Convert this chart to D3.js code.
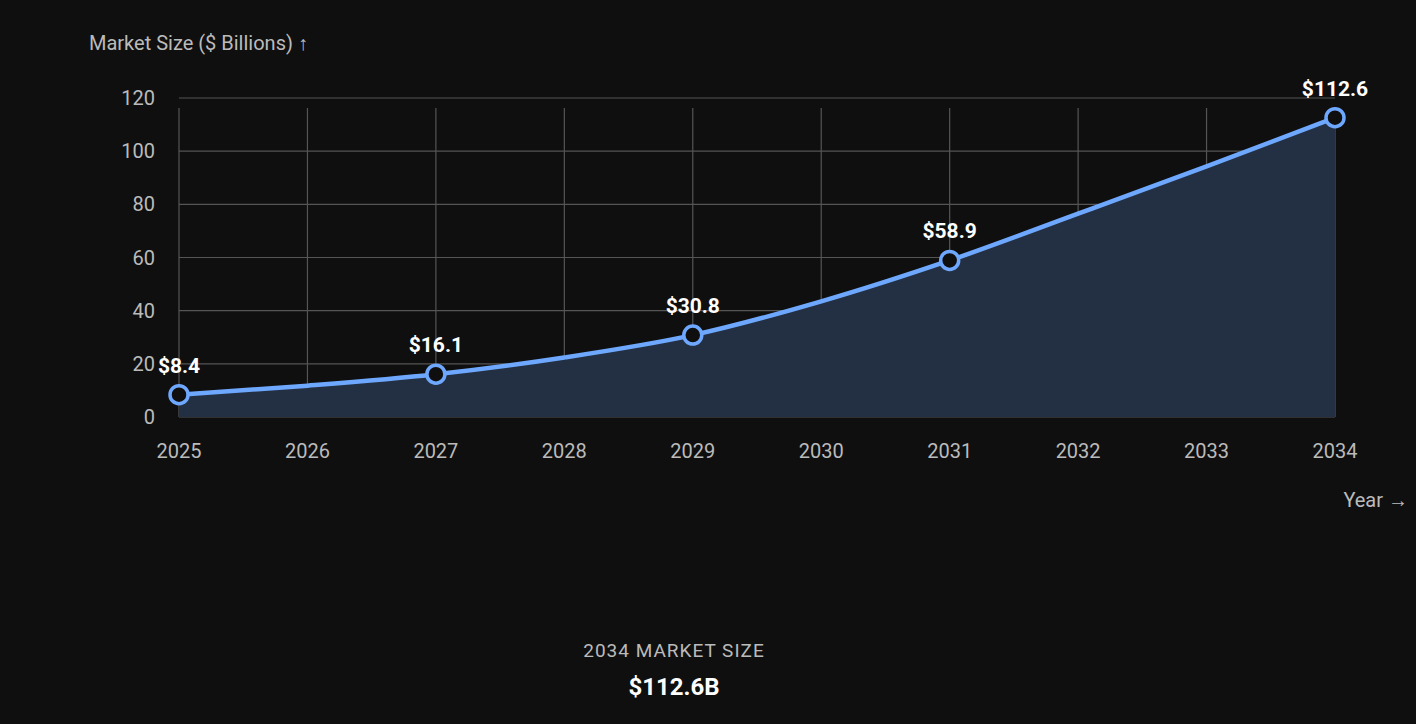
<!DOCTYPE html>
<html><head><meta charset="utf-8">
<script src="https://cdn.jsdelivr.net/npm/d3@7/dist/d3.min.js"></script>
<style>body{margin:0;background:#0f0f0f;font-family:Roboto,sans-serif}</style>
</head><body><svg id="c" width="1416" height="724"></svg>
<script>
const years = [2025,2026,2027,2028,2029,2030,2031,2032,2033,2034];
const values = [8.4,11.8,16.1,22.4,30.8,43.5,58.9,76.5,94.3,112.6];
const labeledYears = [2025,2027,2029,2031,2034];
const yTicks = [0,20,40,60,80,100,120];
const svg = d3.select("#c");
svg.append("rect").attr("width",1416).attr("height",724).attr("fill","#0f0f0f");
const x = d3.scaleLinear().domain([2025,2034]).range([179,1335]);
const y = d3.scaleLinear().domain([0,120]).range([417,98]);
const g = svg.append("g");
g.selectAll(".vg").data(years).join("line").attr("x1",d=>x(d)).attr("x2",d=>x(d)).attr("y1",y(0)).attr("y2",y(120)+10).attr("stroke","#555").attr("stroke-width",1.2);
g.selectAll(".hg").data(yTicks).join("line").attr("x1",x(2025)).attr("x2",x(2034)).attr("y1",d=>y(d)).attr("y2",d=>y(d)).attr("stroke","#555").attr("stroke-width",1.2);
g.selectAll(".yt").data(yTicks).join("text").attr("x",155).attr("y",d=>y(d)+7).attr("text-anchor","end").attr("fill","#bbb").attr("font-size",20).text(d=>d);
g.selectAll(".xt").data(years).join("text").attr("x",d=>x(d)).attr("y",458).attr("text-anchor","middle").attr("fill","#bbb").attr("font-size",20).text(d=>d);
svg.append("text").attr("x",89).attr("y",50).attr("fill","#bbb").attr("font-size",20).text("Market Size ($ Billions) ↑");
svg.append("text").attr("x",1408).attr("y",507).attr("text-anchor","end").attr("fill","#bbb").attr("font-size",20).text("Year →");
const data = years.map((yr,i)=>({yr,v:values[i]}));
svg.append("path").datum(data).attr("d",d3.area().x(d=>x(d.yr)).y0(y(0)).y1(d=>y(d.v)).curve(d3.curveMonotoneX)).attr("fill","#233044");
svg.append("path").datum(data).attr("d",d3.line().x(d=>x(d.yr)).y(d=>y(d.v)).curve(d3.curveMonotoneX)).attr("fill","none").attr("stroke","#6ea8fe").attr("stroke-width",4.5);
const pts = data.filter(d=>labeledYears.includes(d.yr));
svg.selectAll(".pt").data(pts).join("circle").attr("cx",d=>x(d.yr)).attr("cy",d=>y(d.v)).attr("r",9).attr("fill","#0f0f0f").attr("stroke","#6ea8fe").attr("stroke-width",3.5);
svg.selectAll(".lb").data(pts).join("text").attr("x",d=>x(d.yr)).attr("y",d=>y(d.v)-22).attr("text-anchor","middle").attr("fill","#fff").attr("font-size",21).attr("font-weight","bold").text(d=>"$"+d.v.toFixed(1));
svg.append("text").attr("x",674).attr("y",657).attr("text-anchor","middle").attr("fill","#bbb").attr("font-size",19).attr("letter-spacing",1).text("2034 MARKET SIZE");
svg.append("text").attr("x",674).attr("y",695).attr("text-anchor","middle").attr("fill","#fff").attr("font-size",24).attr("font-weight","bold").text("$112.6B");
</script></body></html>
